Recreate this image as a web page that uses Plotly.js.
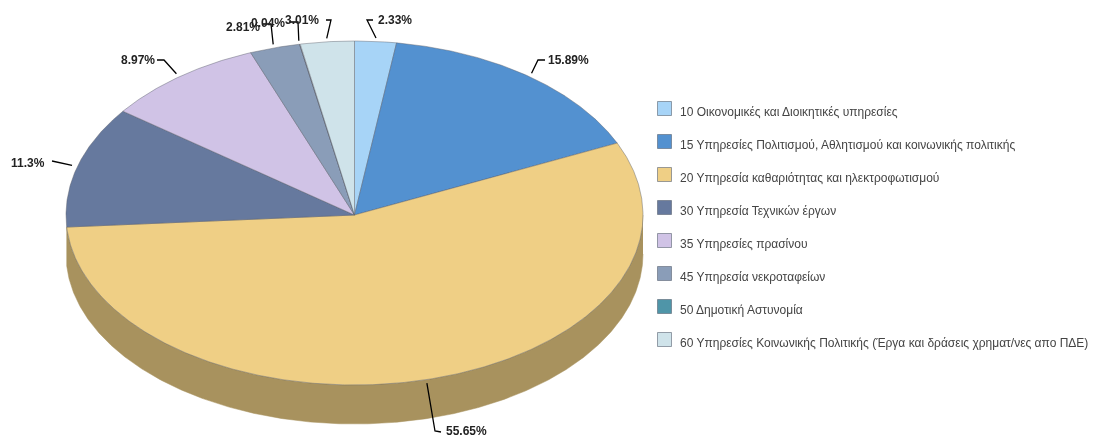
<!DOCTYPE html>
<html><head><meta charset="utf-8">
<script src="https://cdn.plot.ly/plotly-3.0.1.min.js"></script>
<style>html,body{margin:0;padding:0;background:#fff;overflow:hidden}#chart{width:1093px;height:438px;filter:blur(0.5px)}</style>
</head><body><div id="chart"></div>
<script>
// Data
const categories = [
  "10 Οικονομικές και Διοικητικές υπηρεσίες",
  "15 Υπηρεσίες Πολιτισμού, Αθλητισμού και κοινωνικής πολιτικής",
  "20 Υπηρεσία καθαριότητας και ηλεκτροφωτισμού",
  "30 Υπηρεσία Τεχνικών έργων",
  "35 Υπηρεσίες πρασίνου",
  "45 Υπηρεσία νεκροταφείων",
  "50 Δημοτική Αστυνομία",
  "60 Υπηρεσίες Κοινωνικής Πολιτικής (Έργα και δράσεις χρηματ/νες απο ΠΔΕ)"
];
const shares = [2.33, 15.89, 55.65, 11.3, 8.97, 2.81, 0.04, 3.01];
const pctLabels = ["2.33%", "15.89%", "55.65%", "11.3%", "8.97%", "2.81%", "0.04%", "3.01%"];

// Styling
const colors = ["#A7D4F7", "#5391D0", "#EFCF85", "#66799E", "#D0C3E6", "#8A9DB8", "#4F95A8", "#CFE3EA"];
const sideColor = "#A8925E";
const CX = 354.5, CY = 215, RX = 288.5, RY_UP = 174, RY_DOWN = 170, DEPTH = 39;
// elbow, end and label anchor of each leader, in plot units
const leaderMid = [[367,20],[538,60],[435,431],[52,161],[164,60],[271,24],[298,22],[331,20]];
const leaderEnd = [[373,20],[545,60],[441,432],[52,161],[157,60],[262,24],[289,22],[326,20]];
const labelPos = [[378,20,"left"],[548,60,"left"],[446,431,"left"],[45,163,"right"],[155,60,"right"],[260,27,"right"],[285,22.5,"right"],[285,20,"left"]];
const labelOrder = [0,1,2,3,4,6,5,7];
const LEG_X = 664.5, LEG_Y0 = 108.5, LEG_STEP = 33, LEG_TEXT_X = 680, LEG_TEXT_DY = 3.5;
const FONT = "Liberation Sans, Arial, sans-serif";

const total = shares.reduce((a, b) => a + b, 0);
function pt(deg, dy, k) {
  const c = Math.cos(deg * Math.PI / 180), s = Math.sin(deg * Math.PI / 180), f = k || 1;
  return [CX + f * RX * s, CY - f * (c > 0 ? RY_UP : RY_DOWN) * c + (dy || 0)];
}
function arc(a0, a1, dy) {
  const out = [], n = Math.max(2, Math.ceil(Math.abs(a1 - a0) / 0.4));
  for (let i = 0; i <= n; i++) out.push(pt(a0 + (a1 - a0) * i / n, dy));
  return out;
}

const traces = [];
let acc = 0;
const spans = shares.map(v => { const s = [acc / total * 360, (acc + v) / total * 360]; acc += v; return s; });

// side wall: only the part of the rim on the lower half shows
const sideA0 = Math.max(spans[2][0], 90), sideA1 = Math.min(spans[2][1], 270);
const wall = arc(sideA0, sideA1, 0).concat(arc(sideA1, sideA0, DEPTH));
traces.push({type:"scatter", mode:"lines", x:wall.map(p=>p[0]), y:wall.map(p=>p[1]), fill:"toself", fillcolor:sideColor,
  line:{color:sideColor, width:0.5}, hoverinfo:"skip", showlegend:false});

// top face
categories.forEach((c, i) => {
  const p = [[CX, CY]].concat(arc(spans[i][0], spans[i][1])).concat([[CX, CY]]);
  traces.push({type:"scatter", mode:"lines", name:c, x:p.map(q=>q[0]), y:p.map(q=>q[1]), fill:"toself", fillcolor:colors[i],
    line:{color:"rgba(90,95,105,0.55)", width:0.8}, hoverinfo:"skip", showlegend:false});
});

// leaders
categories.forEach((c, i) => {
  const a = pt((spans[i][0] + spans[i][1]) / 2, 0, 1.02);
  traces.push({type:"scatter", mode:"lines", x:[a[0], leaderMid[i][0], leaderEnd[i][0]], y:[a[1], leaderMid[i][1], leaderEnd[i][1]],
    line:{color:"#000", width:1.3}, hoverinfo:"skip", showlegend:false});
});

// key swatches
categories.forEach((c, i) => {
  traces.push({type:"scatter", mode:"markers", name:c, x:[LEG_X], y:[LEG_Y0 + i * LEG_STEP],
    marker:{symbol:"square", size:14, color:colors[i], line:{color:"rgba(90,100,115,0.6)", width:1}},
    hoverinfo:"skip", showlegend:false, cliponaxis:false});
});

const annotations = labelOrder.map(i => ({x:labelPos[i][0], y:labelPos[i][1], xref:"x", yref:"y", text:"<b>"+pctLabels[i]+"</b>", showarrow:false,
  xanchor:labelPos[i][2], yanchor:"middle", borderpad:0, borderwidth:0, font:{family:FONT, size:12, color:"#222"}}))
 .concat(categories.map((c, i) => ({x:LEG_TEXT_X, y:LEG_Y0 + i * LEG_STEP + LEG_TEXT_DY, xref:"x", yref:"y", text:c, showarrow:false,
  xanchor:"left", yanchor:"middle", borderpad:0, borderwidth:0, font:{family:FONT, size:12, color:"#444"}})));

Plotly.newPlot("chart", traces, {
  width:1093, height:438, autosize:false, margin:{l:0,r:0,t:0,b:0}, paper_bgcolor:"#fff", plot_bgcolor:"#fff", showlegend:false,
  xaxis:{range:[0,1093], visible:false, fixedrange:true},
  yaxis:{range:[438,0], visible:false, fixedrange:true},
  annotations
}, {displayModeBar:false, staticPlot:true});
</script></body></html>
